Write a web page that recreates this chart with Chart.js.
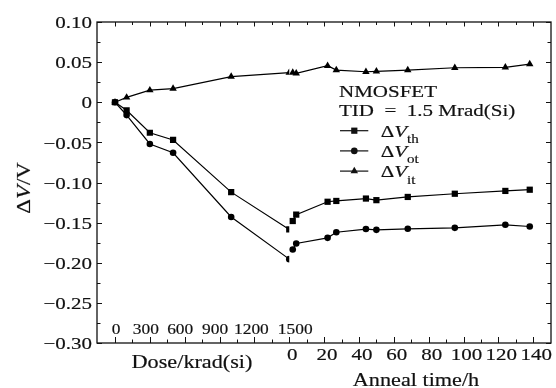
<!DOCTYPE html>
<html>
<head>
<meta charset="utf-8">
<script src="https://cdn.jsdelivr.net/npm/chart.js@4.4.1/dist/chart.umd.min.js"></script>
<style>
    html, body { margin: 0; padding: 0; background: #fff; }
    #wrap { width: 556px; height: 388px; }
</style>
</head>
<body>
<div id="wrap"><canvas id="chart" width="556" height="388"></canvas></div>
<script>
// irradiation steps, krad(Si), then anneal times in hours
let doseKrad = [0, 100, 300, 500, 1000, 1500];
let annealHours = [2, 4, 22, 27, 44, 50, 68, 95, 124, 138];

// delta V (V) during irradiation
let dVthDose = [0, -0.010, -0.038, -0.047, -0.112, -0.1585];
let dVotDose = [0, -0.016, -0.052, -0.063, -0.143, -0.1955];
let dVitDose = [0, 0.006, 0.015, 0.017, 0.032, 0.037];

// delta V (V) during anneal
let dVthAnneal = [-0.148, -0.140, -0.124, -0.123, -0.120, -0.122, -0.118, -0.114, -0.1105, -0.109];
let dVotAnneal = [-0.1834, -0.176, -0.169, -0.162, -0.158, -0.159, -0.1577, -0.1565, -0.1527, -0.1548];
let dVitAnneal = [0.037, 0.036, 0.0455, 0.040, 0.038, 0.0385, 0.040, 0.043, 0.0435, 0.0476];

let yTicks = [0.10, 0.05, 0, -0.05, -0.10, -0.15, -0.20, -0.25, -0.30];
let yTickLabels = ["0.10", "0.05", "0", "\u22120.05", "\u22120.10", "\u22120.15", "\u22120.20", "\u22120.25", "\u22120.30"];
let doseTicks = [0, 300, 600, 900, 1200, 1500];
let annealTicks = [0, 20, 40, 60, 80, 100, 120, 140];

// both parts share one x axis: 300 krad takes as much room as 20 h
let KRAD_PER_UNIT = 15;
let ANNEAL_START = 100;
function doseX(d) { return d / KRAD_PER_UNIT; }
function annealX(t) { return ANNEAL_START + t; }

function pts(xs, ys, f) {
    return xs.map((v, i) => ({ x: f(v), y: ys[i] }));
}

const FONT = '"Liberation Serif", "Times New Roman", serif';
const SX = 1.2; // the original lettering is a bit wide

// draw a run of text pieces: [text, size, italic, dy]
function rich(ctx, parts, x, y, align, sx) {
    sx = sx || SX;
    let w = 0;
    parts.forEach(p => {
        ctx.font = (p[2] ? "italic " : "") + p[1] + "px " + FONT;
        p.w = ctx.measureText(p[0]).width * sx;
        w += p.w;
    });
    let cx = x;
    if (align === "center") cx = x - w / 2;
    if (align === "right") cx = x - w;
    parts.forEach(p => {
        ctx.save();
        ctx.font = (p[2] ? "italic " : "") + p[1] + "px " + FONT;
        ctx.textAlign = "left";
        ctx.textBaseline = "alphabetic";
        ctx.translate(cx, y + (p[3] || 0));
        ctx.scale(sx, 1);
        ctx.lineWidth = 0.18;
        ctx.fillText(p[0], 0, 0);
        ctx.strokeText(p[0], 0, 0);
        ctx.restore();
        cx += p.w;
    });
}

function marker(ctx, style, x, y) {
    ctx.beginPath();
    if (style === "rect") {
        ctx.rect(x - 3.1, y - 3.1, 6.2, 6.2);
    } else if (style === "circle") {
        ctx.arc(x, y, 3.3, 0, Math.PI * 2);
    } else {
        ctx.moveTo(x, y - 4.3);
        ctx.lineTo(x + 3.75, y + 2.15);
        ctx.lineTo(x - 3.75, y + 2.15);
        ctx.closePath();
    }
    ctx.fill();
}

// dose runs stop at 1500 krad, the last marker is cut in half there
const doseClip = {
    id: "doseClip",
    beforeDatasetDraw(chart, args) {
        if (!chart.data.datasets[args.index].doseRun) return;
        let a = chart.chartArea;
        let edge = chart.scales.x.getPixelForValue(doseX(doseKrad[doseKrad.length - 1]));
        let ctx = chart.ctx;
        ctx.save();
        ctx.beginPath();
        ctx.rect(a.left, a.top - 10, edge - a.left, a.bottom - a.top + 20);
        ctx.clip();
    },
    afterDatasetDraw(chart, args) {
        if (chart.data.datasets[args.index].doseRun) chart.ctx.restore();
    }
};

const frame = {
    id: "frame",
    afterDraw(chart) {
        let ctx = chart.ctx;
        let a = chart.chartArea;
        let xs = chart.scales.x, ys = chart.scales.y;
        ctx.save();
        ctx.strokeStyle = "#111";
        ctx.fillStyle = "#111";

        // y ticks, both sides, major + minor
        ctx.lineWidth = 1;
        for (let v = -0.30; v <= 0.1001; v += 0.025) {
            let py = Math.round(ys.getPixelForValue(v)) + 0.5;
            let major = Math.abs(Math.round(v / 0.025)) % 2 === 0;
            let len = major ? 5 : 3.5;
            ctx.beginPath();
            ctx.moveTo(a.left, py); ctx.lineTo(a.left + len, py);
            ctx.moveTo(a.right, py); ctx.lineTo(a.right - len, py);
            ctx.stroke();
        }
        // x ticks, bottom + top, every 150 krad / 10 h
        for (let u = 0; u <= annealX(140) + 0.01; u += 10) {
            let px = Math.round(xs.getPixelForValue(u)) + 0.5;
            let major = Math.round(u / 10) % 2 === 0;
            ctx.beginPath();
            ctx.moveTo(px, a.bottom); ctx.lineTo(px, a.bottom - (major ? 6 : 3.5));
            ctx.moveTo(px, a.top); ctx.lineTo(px, a.top + (major ? 4.5 : 3));
            ctx.stroke();
        }

        // box
        ctx.lineWidth = 1.3;
        ctx.strokeRect(a.left, a.top, a.right - a.left, a.bottom - a.top);

        // y tick labels
        yTicks.forEach((v, i) => {
            rich(ctx, [[yTickLabels[i], 17.5]], 92, ys.getPixelForValue(v) + 6.2, "right");
        });
        // dose labels sit inside the box, a size smaller
        let doseShift = [1, -4, -4.5, -4.5, -3, 6];
        doseTicks.forEach((d, i) => {
            rich(ctx, [[String(d), 15]], xs.getPixelForValue(doseX(d)) + doseShift[i], 333.5, "center", 1.16);
        });
        // anneal labels below the box
        annealTicks.forEach(t => {
            rich(ctx, [[String(t), 17.5]], xs.getPixelForValue(annealX(t)) + 3, 360, "center");
        });

        // axis titles
        rich(ctx, [["Dose/krad(si)", 18.5]], 192, 368, "center");
        rich(ctx, [["Anneal time/h", 18.5]], 416, 386, "center");
        ctx.save();
        ctx.translate(30, 188);
        ctx.rotate(-Math.PI / 2);
        rich(ctx, [["\u0394", 19], ["V", 19, true], ["/V", 19]], 0, 0, "center");
        ctx.restore();

        // legend block
        rich(ctx, [["NMOSFET", 17.5]], 339, 96.7, "left");
        rich(ctx, [["TID  =  1.5 Mrad(Si)", 17.5]], 339, 116, "left");
        let rows = [["th", "rect"], ["ot", "circle"], ["it", "triangle"]];
        rows.forEach((r, i) => {
            let y = 130.7 + i * 20.2;
            ctx.lineWidth = 1.2;
            ctx.beginPath();
            ctx.moveTo(340, y); ctx.lineTo(368.3, y);
            ctx.stroke();
            marker(ctx, r[1], 354.3, y);
            rich(ctx, [["\u0394", 17.5], ["V", 17.5, true], [r[0], 12.5, false, 6.5]], 380.7, y + 6, "left");
        });
        ctx.restore();
    }
};

function series(data, style, r, dose) {
    return {
        data: data,
        borderColor: "#000",
        borderWidth: 1.2,
        backgroundColor: "#000",
        pointStyle: style,
        pointRadius: r,
        pointBorderWidth: 0,
        pointBackgroundColor: "#000",
        tension: 0,
        fill: false,
        clip: false,
        doseRun: dose
    };
}

let ctx = document.querySelector("#chart").getContext("2d");
let myChart = new Chart(ctx, {
    type: "line",
    data: {
        datasets: [
            series(pts(doseKrad, dVthDose, doseX), "rect", 4.4, true),
            series(pts(doseKrad, dVotDose, doseX), "circle", 3.3, true),
            series(pts(doseKrad, dVitDose, doseX), "triangle", 4.3, true),
            series(pts(annealHours, dVthAnneal, annealX), "rect", 4.4, false),
            series(pts(annealHours, dVotAnneal, annealX), "circle", 3.3, false),
            series(pts(annealHours, dVitAnneal, annealX), "triangle", 4.3, false)
        ]
    },
    options: {
        responsive: false,
        animation: false,
        events: [],
        layout: { padding: { left: 97, right: 5, top: 22, bottom: 45 } },
        scales: {
            x: { type: "linear", min: -10.33, max: 250.2, display: false },
            y: { type: "linear", min: -0.30, max: 0.10, display: false }
        },
        plugins: {
            legend: { display: false },
            tooltip: { enabled: false }
        }
    },
    plugins: [doseClip, frame]
});
</script>
</body>
</html>
